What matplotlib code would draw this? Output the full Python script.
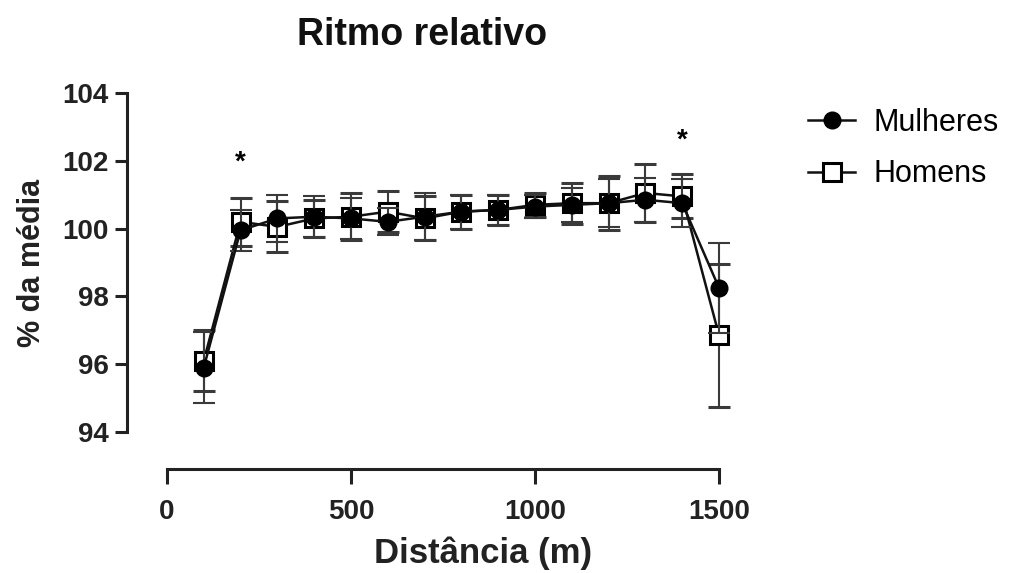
"""Ritmo relativo - Mulheres vs Homens"""
import matplotlib
matplotlib.use('Agg')
import matplotlib.pyplot as plt

plt.rcParams['font.family'] = ['Liberation Sans', 'DejaVu Sans']

# data
distancia = [100, 200, 300, 400, 500, 600, 700, 800, 900, 1000, 1100, 1200, 1300, 1400, 1500]
mulheres = [95.9, 99.95, 100.3, 100.35, 100.3, 100.2, 100.35, 100.5, 100.55, 100.65, 100.7, 100.75, 100.85, 100.75, 98.25]
mulheres_err = [1.05, 0.6, 0.7, 0.6, 0.6, 0.4, 0.7, 0.5, 0.45, 0.35, 0.5, 0.7, 0.65, 0.7, 1.33]
homens = [96.1, 100.2, 100.05, 100.3, 100.35, 100.5, 100.3, 100.5, 100.55, 100.7, 100.75, 100.75, 101.05, 100.95, 96.85]
homens_err = [0.9, 0.7, 0.75, 0.55, 0.7, 0.6, 0.65, 0.5, 0.45, 0.35, 0.6, 0.8, 0.85, 0.65, 2.1]
signif_x = [200, 1400]
signif_y = [101.95, 102.6]

fig = plt.figure(figsize=(10.1, 5.73), dpi=100)
ax = fig.add_axes([0.1653, 0.2461, 0.7119 - 0.1653, 0.8377 - 0.2461])

ax.errorbar(distancia, homens, yerr=homens_err, fmt='-s', color='#111111',
            ecolor='#3a3a3a', elinewidth=1.5, capsize=8, capthick=1.5, lw=1.8,
            markersize=13.5, markerfacecolor='white', markeredgecolor='black',
            markeredgewidth=2.2, clip_on=False, zorder=3, label='Homens')
ax.errorbar(distancia, mulheres, yerr=mulheres_err, fmt='-o', color='#111111',
            ecolor='#3a3a3a', elinewidth=1.5, capsize=8, capthick=1.5, lw=1.8,
            markersize=12, markerfacecolor='black', markeredgecolor='black',
            clip_on=False, zorder=4, label='Mulheres')

for sx, sy in zip(signif_x, signif_y):
    ax.text(sx, sy, '*', ha='center', va='center', fontsize=20, fontweight='bold')

ax.set_xlim(0, 1500)
ax.set_ylim(94, 104)
ax.set_xticks([0, 500, 1000, 1500])
ax.set_yticks([94, 96, 98, 100, 102, 104])

for s in ['top', 'right']:
    ax.spines[s].set_visible(False)
ax.spines['left'].set_position(('outward', 29))
ax.spines['bottom'].set_position(('outward', 27))
ax.spines['left'].set_bounds(94, 104)
ax.spines['bottom'].set_bounds(0, 1500)
for s in ['left', 'bottom']:
    ax.spines[s].set_linewidth(2.2)
    ax.spines[s].set_color('#222222')

ax.tick_params(axis='both', width=2.2, color='#222222', labelsize=20)
ax.tick_params(axis='y', length=9, pad=4)
ax.tick_params(axis='x', length=11, pad=10)
for lab in ax.get_xticklabels() + ax.get_yticklabels():
    lab.set_fontweight('bold')
    lab.set_color('#222222')

ax.set_ylabel('% da média', fontsize=22, fontweight='bold', color='#222222', labelpad=11)
fig.text(483 / 1010, 1 - 553 / 573, 'Distância (m)', fontsize=25, fontweight='bold',
         color='#222222', ha='center', va='center')
fig.text(422 / 1010, 1 - 35 / 573, 'Ritmo relativo', fontsize=27, fontweight='bold',
         color='#111111', ha='center', va='center')

h, l = ax.get_legend_handles_labels()
h = [hh[0] for hh in h][::-1]
l = l[::-1]
fig.legend(h, l, loc='upper left', bbox_to_anchor=(808 / 1010, 1 - 108 / 573),
           frameon=False, fontsize=22, handlelength=1.55, labelspacing=0.7,
           handletextpad=0.6, borderpad=0, borderaxespad=0)

fig.savefig('out.png', dpi=100)
